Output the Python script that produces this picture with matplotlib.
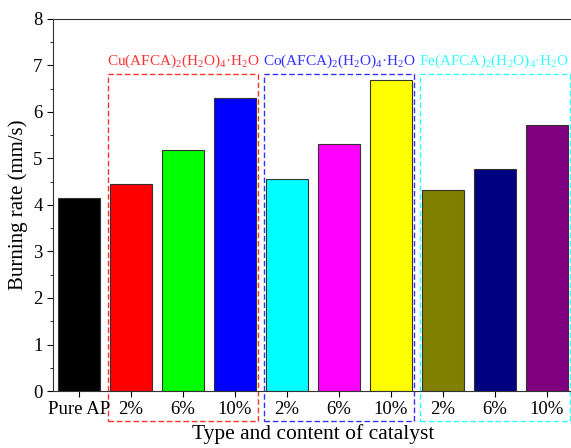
import matplotlib
matplotlib.use('Agg')
import matplotlib.pyplot as plt
from matplotlib.patches import Rectangle

plt.rcParams['font.family'] = ['Liberation Serif', 'DejaVu Serif']
plt.rcParams['mathtext.fontset'] = 'custom'
plt.rcParams['mathtext.rm'] = 'Liberation Serif'
plt.rcParams['mathtext.it'] = 'Liberation Serif:italic'

tick_labels = ['Pure AP', '2%', '6%', '10%', '2%', '6%', '10%', '2%', '6%', '10%']
rates = [4.16, 4.45, 5.19, 6.31, 4.56, 5.31, 6.68, 4.32, 4.78, 5.72]
bar_colors = ['black', 'red', '#00FF00', 'blue', 'cyan', 'magenta', 'yellow',
              '#808000', '#000080', '#800080']
groups = [r'Cu(AFCA)$_2$(H$_2$O)$_4$·H$_2$O',
          r'Co(AFCA)$_2$(H$_2$O)$_4$·H$_2$O',
          r'Fe(AFCA)$_2$(H$_2$O)$_4$·H$_2$O']
group_colors = ['#FF3333', '#3333FF', '#33FFFF']

fig = plt.figure(figsize=(5.71, 4.48), dpi=100)
ax = fig.add_axes([53 / 571, 1 - 391 / 448, 520 / 571, 372 / 448])

x = list(range(len(rates)))
ax.bar(x, rates, width=0.8, color=bar_colors, edgecolor='#333333', linewidth=0.8)

ax.set_xlim(-0.5, 9.5)
ax.set_ylim(0, 8)
ax.set_xticks(x)
ax.set_xticklabels(tick_labels)
ax.set_yticks(range(0, 9))
ax.set_yticks([i + 0.5 for i in range(8)], minor=True)
ax.tick_params(axis='both', which='major', labelsize=13.5, direction='out', length=4)
ax.tick_params(axis='y', which='minor', direction='out', length=2.5)
ax.spines['right'].set_visible(False)
for s in ax.spines.values():
    s.set_color('#333333')

ax.set_ylabel('Burning rate (mm/s)', fontsize=15, labelpad=4)
ax.set_xlabel('Type and content of catalyst', fontsize=15.5, labelpad=4)

# dashed group boxes with labels above them
for i, (name, c) in enumerate(zip(groups, group_colors)):
    left = 0.55 + 3 * i
    box = Rectangle((left, -0.65), 2.9, 7.47, fill=False, edgecolor=c,
                    linestyle=(0, (4, 2)), linewidth=1.0, clip_on=False)
    ax.add_patch(box)
    ax.text(left - 0.02, 7.02, name, color=c, fontsize=11, ha='left', va='baseline')

fig.savefig('out.png', dpi=100)
